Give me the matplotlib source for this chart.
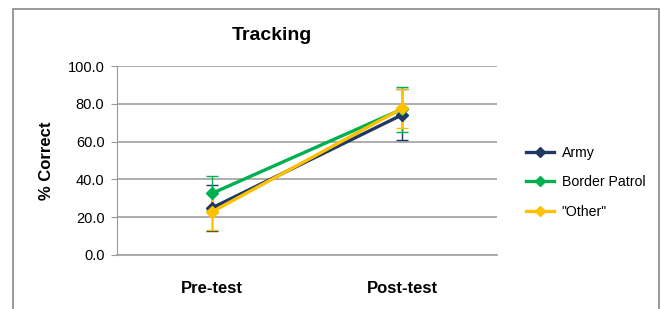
import matplotlib.pyplot as plt
from matplotlib.patches import Rectangle

plt.rcParams["font.family"] = ["Liberation Sans", "DejaVu Sans"]

phases = ["Pre-test", "Post-test"]
groups = ["Army", "Border Patrol", '"Other"']
colors = ["#1F3864", "#00B050", "#FFC000"]

army = [24.9, 74.2]
border = [32.6, 77.2]
other = [22.8, 77.6]
army_err = [12.0, 13.5]
border_err = [9.2, 12.0]
other_err = [9.8, 10.5]

values = [army, border, other]
errors = [army_err, border_err, other_err]

fig = plt.figure(figsize=(6.61, 3.09), dpi=100)
ax = fig.add_axes([0.177, 0.175, 0.575, 0.611])

# outer chart border (bottom runs off the image)
fig.patches.append(Rectangle((13 / 661, -0.1), 646 / 661, 1.1 - 9 / 309,
                             transform=fig.transFigure, fill=False,
                             edgecolor="#888888", lw=1.2))

x = list(range(len(phases)))
handles = []
for name, vals, err, c in zip(groups, values, errors, colors):
    cont = ax.errorbar(x, vals, yerr=err, color=c, lw=2.4, marker="D", ms=6,
                       ecolor=c, elinewidth=1.0, capsize=4, capthick=1.0, label=name)
    handles.append(cont[0])

ax.set_xlim(-0.5, 1.5)
ax.set_ylim(0, 100)
ax.set_yticks(range(0, 101, 20))
ax.set_yticklabels([f"{v:.1f}" for v in range(0, 101, 20)], fontsize=10.5)
ax.set_xticks(x)
ax.set_xticklabels(phases, fontsize=12, fontweight="bold")
ax.tick_params(axis="x", length=0, pad=19)
ax.tick_params(axis="y", length=4, color="#999999", pad=5)
ax.yaxis.grid(True, color="#A0A0A0", lw=1.2)
ax.set_axisbelow(True)
for s in ["top", "right"]:
    ax.spines[s].set_visible(False)
ax.spines["left"].set_color("#999999")
ax.spines["bottom"].set_color("#A0A0A0")
ax.spines["bottom"].set_linewidth(1.2)

ax.set_ylabel("% Correct", fontsize=12, fontweight="bold", labelpad=10)
fig.text(272 / 661, 1 - 36 / 309, "Tracking", fontsize=14, fontweight="bold",
         ha="center", va="center")

ax.legend(handles, groups, loc="center left", bbox_to_anchor=(1.043, 0.385),
          frameon=False, fontsize=10.2, handlelength=2.0, labelspacing=1.1,
          handletextpad=0.5, markerscale=0.8)

fig.savefig("out.png", dpi=100)
